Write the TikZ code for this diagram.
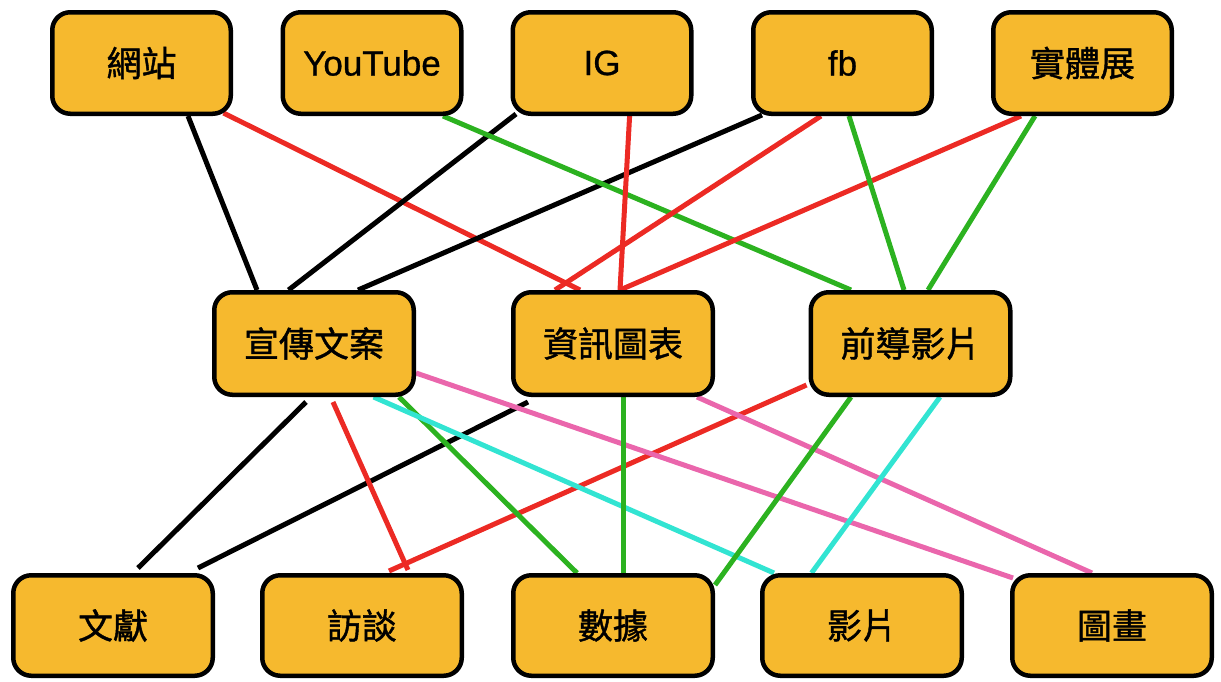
\documentclass[tikz,border=0pt]{standalone}
\usepackage{fontspec}
\setmainfont[FakeBold=0.8]{Liberation Sans}
\newfontfamily\cjk[FakeBold=1.2]{Noto Sans CJK TC}
\usetikzlibrary{backgrounds}
\definecolor{boxfill}{RGB}{246,185,46}
\definecolor{lred}{RGB}{236,42,36}
\definecolor{lgreen}{RGB}{44,178,32}
\definecolor{lcyan}{RGB}{50,228,210}
\definecolor{lpink}{RGB}{234,102,172}
\begin{document}
\begin{tikzpicture}[x=1pt,y=-1pt,
  box/.style={draw=black, line width=4.5pt, fill=boxfill, rounded corners=18pt, inner sep=0pt, font=\fontsize{35}{35}\selectfont},
  topbox/.style={box, minimum width=178.5pt, minimum height=101.5pt},
  midbox/.style={box, minimum width=199.5pt, minimum height=102.5pt},
  botbox/.style={box, minimum width=199.5pt, minimum height=100.5pt},
  link/.style={line width=5pt},
  blk/.style={link, draw=black},
  rd/.style={link, draw=lred},
  gr/.style={link, draw=lgreen},
  cy/.style={link, draw=lcyan},
  pk/.style={link, draw=lpink}]
\useasboundingbox (0,0) rectangle (1221,681);
% top row
\node[topbox] (wz) at (141.5,63) {\cjk 網站};
\node[topbox] (yt) at (372,63) {YouTube};
\node[topbox] (ig) at (602,63) {IG};
\node[topbox] (fb) at (842.5,63) {fb};
\node[topbox] (st) at (1082.5,63) {\cjk 實體展};
% middle row
\node[midbox] (xc) at (314,343.5) {\cjk 宣傳文案};
\node[midbox] (zx) at (613,343.5) {\cjk 資訊圖表};
\node[midbox] (qd) at (910.5,343.5) {\cjk 前導影片};
% bottom row
\node[botbox] (wx) at (113,625.5) {\cjk 文獻};
\node[botbox] (ft) at (362,625.5) {\cjk 訪談};
\node[botbox] (sj) at (613,625.5) {\cjk 數據};
\node[botbox] (yp) at (862,625.5) {\cjk 影片};
\node[botbox] (th) at (1112,625.5) {\cjk 圖畫};
\begin{scope}[on background layer]
% top to middle
\draw[blk] ([xshift=46.5pt]wz.south) -- ([xshift=-57pt]xc.north);
\draw[rd] ([xshift=82pt,yshift=3pt]wz.south) -- ([xshift=-33pt]zx.north);
\draw[blk] ([xshift=-86pt,yshift=2pt]ig.south) -- ([xshift=-25.5pt]xc.north);
\draw[blk] ([xshift=-80.5pt,yshift=1pt]fb.south) -- ([xshift=44pt]xc.north);
\draw[gr] ([xshift=71pt]yt.south) -- ([xshift=-59.5pt]qd.north);
\draw[rd] ([xshift=27.6pt]ig.south) -- ([xshift=7pt]zx.north);
\draw[rd] ([xshift=-21.5pt]fb.south) -- ([xshift=-58pt]zx.north);
\draw[rd] ([xshift=-61.5pt]st.south) -- ([xshift=7pt]zx.north);
\draw[gr] ([xshift=6.5pt]fb.south) -- ([xshift=-6.5pt]qd.north);
\draw[gr] ([xshift=-47.5pt]st.south) -- ([xshift=17.5pt]qd.north);
% middle to bottom
\draw[blk] ([xshift=-8pt,yshift=-5pt]xc.south) -- ([xshift=25pt,yshift=5pt]wx.north);
\draw[blk] ([xshift=-85pt,yshift=-5pt]zx.south) -- ([xshift=85pt,yshift=5pt]wx.north);
\draw[rd] ([xshift=19pt,yshift=-5pt]xc.south) -- ([xshift=46pt,yshift=3pt]ft.north);
\draw[rd] ([xshift=-2pt,yshift=12pt]qd.south west) -- ([xshift=27pt,yshift=2pt]ft.north);
\draw[gr] ([xshift=85pt]xc.south) -- ([xshift=-36pt]sj.north);
\draw[cy] ([xshift=59.6pt]xc.south) -- ([xshift=-88pt]yp.north);
\draw[pk] ([yshift=-29.5pt]xc.east) -- ([xshift=3pt,yshift=-5pt]th.north west);
\draw[gr] ([xshift=10pt]zx.south) -- ([xshift=10pt]sj.north);
\draw[pk] ([xshift=84pt]zx.south) -- ([xshift=-20pt]th.north);
\draw[gr] ([xshift=-59.5pt]qd.south) -- ([yshift=-12pt]sj.north east);
\draw[cy] ([xshift=29.5pt]qd.south) -- ([xshift=-50.5pt]yp.north);
\end{scope}
\end{tikzpicture}
\end{document}
